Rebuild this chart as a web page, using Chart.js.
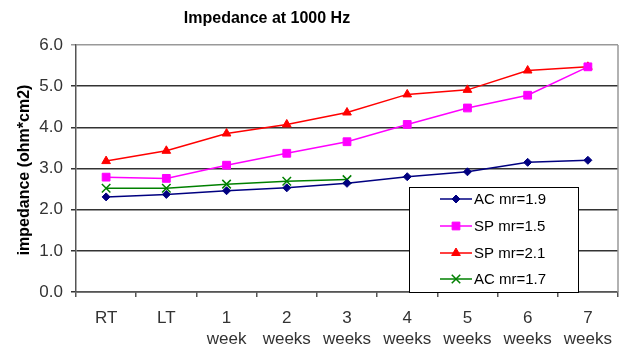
<!DOCTYPE html>
<html>
<head>
<meta charset="utf-8">
<script src="https://cdn.jsdelivr.net/npm/chart.js@4.4.1/dist/chart.umd.min.js"></script>
<style>
  html, body { margin: 0; padding: 0; background: #fff; }
  #wrap { width: 626px; height: 347px; }
</style>
</head>
<body>
<div id="wrap"><canvas id="chart"></canvas></div>
<script>
const labels = ["RT", "LT", ["1", "week"], ["2", "weeks"], ["3", "weeks"], ["4", "weeks"], ["5", "weeks"], ["6", "weeks"], ["7", "weeks"]];
const acMr19 = [2.31, 2.37, 2.46, 2.53, 2.64, 2.80, 2.92, 3.15, 3.20];
const spMr15 = [2.79, 2.76, 3.08, 3.37, 3.65, 4.07, 4.47, 4.78, 5.47];
const spMr21 = [3.18, 3.43, 3.85, 4.07, 4.36, 4.80, 4.91, 5.38, 5.47];
const acMr17 = [2.52, 2.52, 2.62, 2.69, 2.73];
const yTicks = [0, 1, 2, 3, 4, 5, 6];

const FONT = "'Liberation Sans', Arial, sans-serif";

// title, y-axis caption, right frame line and the boxed legend inside the plot
const extras = {
  id: "extras",
  afterDraw(chart) {
    const ctx = chart.ctx;
    const area = chart.chartArea;
    ctx.save();
    ctx.strokeStyle = "#999";
    ctx.lineWidth = 1.5;
    ctx.beginPath();
    ctx.moveTo(area.right, area.top);
    ctx.lineTo(area.right, area.bottom);
    ctx.stroke();

    ctx.fillStyle = "#000";
    ctx.font = "bold 16px " + FONT;
    ctx.textAlign = "center";
    ctx.textBaseline = "middle";
    ctx.fillText("Impedance at 1000 Hz", 267, 19);

    ctx.font = "bold 16px " + FONT;
    ctx.translate(25, 170);
    ctx.rotate(-Math.PI / 2);
    ctx.fillText("impedance (ohm*cm2)", 0, 0);
    ctx.restore();

    // legend
    ctx.save();
    const bx = 409, by = 187, bw = 169, bh = 105;
    ctx.fillStyle = "#fff";
    ctx.fillRect(bx, by, bw, bh);
    ctx.strokeStyle = "#000";
    ctx.lineWidth = 1;
    ctx.strokeRect(bx + 0.5, by + 0.5, bw, bh);
    const rows = [199, 226, 253, 279];
    chart.data.datasets.forEach((ds, i) => {
      const y = rows[i];
      ctx.strokeStyle = ds.borderColor;
      ctx.lineWidth = 1.5;
      ctx.beginPath();
      ctx.moveTo(440, y);
      ctx.lineTo(472, y);
      ctx.stroke();
      ctx.fillStyle = ds.pointBackgroundColor;
      ctx.strokeStyle = ds.pointBorderColor;
      ctx.lineWidth = ds.pointBorderWidth;
      Chart.helpers.drawPoint(ctx, { pointStyle: ds.pointStyle, radius: ds.pointRadius, rotation: 0, borderWidth: ds.pointBorderWidth }, 456, y);
      ctx.fillStyle = "#000";
      ctx.font = "15px " + FONT;
      ctx.textAlign = "left";
      ctx.textBaseline = "middle";
      ctx.fillText(ds.label, 474, y + 1);
    });
    ctx.restore();
  }
};

function series(label, data, color, style, radius) {
  return {
    label,
    data,
    borderColor: color,
    borderWidth: 1.5,
    pointStyle: style,
    pointRadius: radius,
    pointHoverRadius: radius,
    pointBackgroundColor: color,
    pointBorderColor: color,
    pointBorderWidth: style === "crossRot" ? 1.5 : 1,
    tension: 0,
  };
}

new Chart(document.getElementById("chart"), {
  type: "line",
  data: {
    labels,
    datasets: [
      series("AC mr=1.9", acMr19, "#000080", "rectRot", 4),
      series("SP mr=1.5", spMr15, "#ff00ff", "rect", 5.5),
      series("SP mr=2.1", spMr21, "#ff0000", "triangle", 5),
      series("AC mr=1.7", acMr17, "#008000", "crossRot", 6),
    ],
  },
  options: {
    responsive: true,
    maintainAspectRatio: false,
    animation: false,
    layout: { padding: { top: 45, right: 8, left: 0, bottom: 0 } },
    plugins: {
      legend: { display: false },
      title: { display: false },
      tooltip: { enabled: false },
    },
    scales: {
      x: {
        offset: true,
        grid: { offset: true, drawOnChartArea: false, drawTicks: true, tickLength: 5, color: "#555", lineWidth: 1.5 },
        border: { color: "#555", width: 1.5 },
        ticks: { color: "#333", font: { family: FONT, size: 17, lineHeight: 1.22 }, padding: 11, maxRotation: 0, autoSkip: false },
        afterFit(scale) { scale.height = 55; },
      },
      y: {
        min: 0,
        max: 6,
        afterBuildTicks(scale) { scale.ticks = yTicks.map(v => ({ value: v })); },
        grid: {
          color: ctx => (ctx.tick && ctx.tick.value === 6 ? "#999" : "#333"),
          lineWidth: 1.5,
          tickLength: 5,
        },
        border: { color: "#555", width: 1.5 },
        ticks: {
          color: "#333",
          font: { family: FONT, size: 17 },
          padding: 8,
          callback: v => v.toFixed(1),
        },
        afterFit(scale) { scale.width = 76; },
      },
    },
  },
  plugins: [extras],
});
</script>
</body>
</html>
